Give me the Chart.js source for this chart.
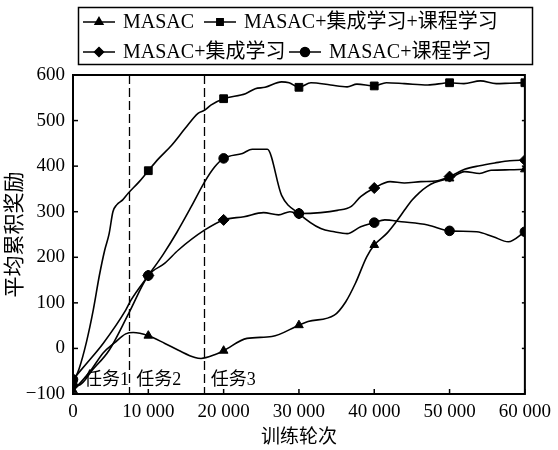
<!DOCTYPE html>
<html>
<head>
<meta charset="utf-8">
<script src="https://cdn.jsdelivr.net/npm/chart.js@4"></script>
<style>
  html, body { margin: 0; padding: 0; background: #fff; }
  #wrap { width: 558px; height: 450px; }
</style>
</head>
<body>
<div id="wrap"><canvas id="rewardChart" width="558" height="450"></canvas></div>
<script>
// training steps where the markers sit
const markerSteps = [0, 10000, 20000, 30000, 40000, 50000, 60000];
const taskLines = [7400, 17400];
const taskLabels = ['任务1', '任务2', '任务3'];
const taskLabelX = [1450, 8400, 18300];
const taskLabelY = -70;

// MASAC
const masacX = [0, 1000, 2500, 4000, 5500, 7000, 8000, 10000, 12200, 14000, 16200, 17000, 18800, 20000, 23100, 26400, 30000, 31200, 34700, 36200, 37500, 39000, 40000, 41700, 43000, 44000, 45000, 46000, 47000, 48000, 49000, 50000, 52000, 54000, 55500, 58000, 60000];
const masacY = [-92, -75, -45, -10, 12, 32, 35, 28, 11, -4, -20, -22, -14, -5, 22, 26, 51, 59, 73, 102, 143, 201, 227, 253, 280, 303, 325, 342, 355, 364, 369, 373, 388, 384, 391, 392, 393];

// MASAC+集成学习+课程学习
const fullX = [0, 800, 1800, 2700, 3500, 4200, 4800, 5300, 5800, 6600, 7300, 8800, 10000, 11400, 13100, 14900, 16600, 17500, 18300, 20000, 22900, 24200, 25500, 27700, 28700, 30000, 31600, 34200, 36400, 37700, 40000, 41600, 44000, 47100, 50000, 51900, 54100, 56200, 58000, 60000];
const fullY = [-75, -45, 15, 85, 160, 215, 252, 300, 315, 326, 340, 366, 390, 417, 446, 483, 516, 523, 534, 548, 559, 570, 573, 585, 583, 573, 583, 578, 574, 580, 576, 583, 581, 578, 583, 581, 587, 581, 582, 583];

// MASAC+集成学习
const ensembleX = [0, 900, 2600, 4800, 7400, 10000, 12200, 14000, 17500, 20000, 22700, 25300, 27300, 28800, 30000, 32900, 35100, 36900, 38200, 40000, 42100, 44000, 46200, 48400, 50000, 52000, 54000, 56000, 58000, 60000];
const ensembleY = [-82, -80, -47, -4, 77, 160, 187, 216, 260, 282, 289, 298, 293, 300, 296, 298, 303, 311, 333, 352, 366, 363, 366, 368, 377, 393, 401, 407, 412, 413];

// MASAC+课程学习
const curriculumX = [0, 1800, 4000, 7000, 7700, 10000, 12000, 13800, 15700, 17500, 18800, 20000, 22500, 23800, 25800, 27700, 30000, 32900, 34700, 36400, 38200, 40000, 41400, 43600, 47100, 50000, 53600, 55800, 57800, 60000];
const curriculumY = [-68, -33, 11, 84, 106, 160, 207, 255, 311, 366, 398, 417, 428, 437, 437, 336, 296, 263, 256, 252, 267, 276, 282, 278, 271, 258, 256, 245, 234, 256];

const serif = "'Liberation Serif', 'Noto Sans CJK SC', serif";
const pts = (xs, ys) => xs.map((x, i) => ({ x: x, y: ys[i] }));

function series(label, xs, ys, style, r) {
  return {
    label: label,
    data: pts(xs, ys),
    borderColor: '#000',
    backgroundColor: '#000',
    borderWidth: 1.6,
    cubicInterpolationMode: 'monotone',
    pointStyle: style,
    pointBackgroundColor: '#000',
    pointBorderColor: '#000',
    pointBorderWidth: 1,
    pointRadius: ctx => markerSteps.includes(ctx.raw.x) ? r : 0,
    pointHoverRadius: 0
  };
}

const datasets = [
  series('MASAC', masacX, masacY, 'triangle', 5),
  series('MASAC+集成学习+课程学习', fullX, fullY, 'rect', 5.5),
  series('MASAC+集成学习', ensembleX, ensembleY, 'rectRot', 5.5),
  series('MASAC+课程学习', curriculumX, curriculumY, 'circle', 4.8)
];

// legend slots: [dataset index, line start x, row y]
const legendSlots = [[0, 83, 22], [1, 204, 22], [2, 83, 52], [3, 289, 52]];

const decorations = {
  id: 'decorations',
  beforeDatasetsDraw(chart) {
    const { ctx, chartArea: a, scales: { x, y } } = chart;
    ctx.save();
    ctx.strokeStyle = '#000';
    ctx.lineWidth = 1.3;
    ctx.setLineDash([9, 4]);
    taskLines.forEach(v => {
      const px = Math.round(x.getPixelForValue(v)) + 0.5;
      ctx.beginPath(); ctx.moveTo(px, a.top); ctx.lineTo(px, a.bottom); ctx.stroke();
    });
    ctx.setLineDash([]);
    ctx.fillStyle = '#000';
    ctx.font = '18px ' + serif;
    ctx.textBaseline = 'middle';
    taskLabels.forEach((t, i) => {
      ctx.fillText(t, x.getPixelForValue(taskLabelX[i]), y.getPixelForValue(taskLabelY));
    });
    ctx.restore();
  },
  afterDraw(chart) {
    const { ctx, chartArea: a, scales: { x, y } } = chart;
    ctx.save();
    ctx.strokeStyle = '#000';
    ctx.lineWidth = 1.5;
    x.ticks.forEach(t => {
      const px = x.getPixelForValue(t.value);
      ctx.beginPath(); ctx.moveTo(px, a.bottom); ctx.lineTo(px, a.bottom - 5); ctx.stroke();
    });
    y.ticks.forEach(t => {
      const py = y.getPixelForValue(t.value);
      ctx.beginPath(); ctx.moveTo(a.left, py); ctx.lineTo(a.left + 5, py); ctx.stroke();
      ctx.beginPath(); ctx.moveTo(a.right, py); ctx.lineTo(a.right - 3, py); ctx.stroke();
    });
    ctx.lineWidth = 2;
    ctx.strokeRect(a.left, a.top, a.right - a.left, a.bottom - a.top);

    // legend box
    ctx.lineWidth = 1.5;
    ctx.strokeRect(78.5, 7.5, 454, 57);
    ctx.font = '20px ' + serif;
    ctx.fillStyle = '#000';
    ctx.textBaseline = 'middle';
    legendSlots.forEach(([di, lx, ly]) => {
      const ds = chart.data.datasets[di];
      ctx.lineWidth = 1.5;
      ctx.beginPath(); ctx.moveTo(lx, ly); ctx.lineTo(lx + 32, ly); ctx.stroke();
      Chart.helpers.drawPoint(ctx, { pointStyle: ds.pointStyle, radius: 4.5, borderWidth: 1 }, lx + 16, ly);
      ctx.fill();
      ctx.fillText(ds.label, lx + 40, ly + 1);
    });
    ctx.restore();
  }
};

new Chart(document.getElementById('rewardChart'), {
  type: 'line',
  data: { datasets: datasets },
  options: {
    responsive: false,
    animation: false,
    layout: { padding: { top: 75, right: 26, left: 0, bottom: 0 } },
    plugins: { legend: { display: false }, tooltip: { enabled: false } },
    scales: {
      x: {
        type: 'linear', min: 0, max: 60000,
        grid: { display: false, drawTicks: false },
        border: { display: false },
        ticks: {
          stepSize: 10000, color: '#000', padding: 7, maxRotation: 0,
          font: { family: serif, size: 19 },
          callback: v => v >= 10000 ? Math.floor(v / 1000) + ' 000' : String(v)
        },
        title: { display: true, text: '训练轮次', color: '#000', font: { family: serif, size: 19 }, padding: { top: 0, bottom: 1 } },
        afterFit: s => { s.height = 56; }
      },
      y: {
        min: -100, max: 600,
        grid: { display: false, drawTicks: false },
        border: { display: false },
        ticks: {
          stepSize: 100, color: '#000', padding: 8,
          font: { family: serif, size: 19 },
          callback: v => v < 0 ? '\u2212' + Math.abs(v) : String(v)
        },
        title: { display: true, text: '平均累积奖励', color: '#000', font: { family: serif, size: 21 }, padding: { top: 3, bottom: 0 } },
        afterFit: s => { s.width = 73; }
      }
    }
  },
  plugins: [decorations]
});
</script>
</body>
</html>
